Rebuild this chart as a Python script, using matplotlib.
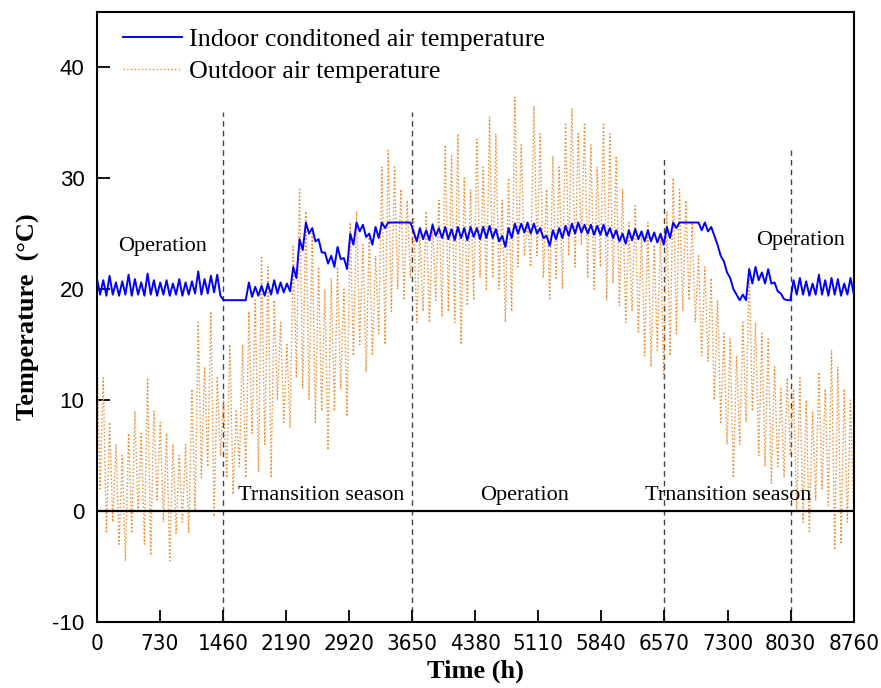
import matplotlib
matplotlib.use("Agg")
import matplotlib.pyplot as plt
from matplotlib import font_manager
import numpy as np

# ---- data (one high/low pair per 73 h block) ----
outdoor_hi = [14, 12, 8, 6, 5, 7, 9, 7, 12, 9,
              8, 7, 6, 5, 6, 11, 17, 13, 18, 12,
              10, 15, 9, 15, 18, 19, 23, 22, 19, 17,
              15, 24, 29, 27, 25, 22, 20, 21, 22, 20,
              26, 27, 24, 25, 23, 31, 32.5, 31, 29, 28,
              26.5, 25, 27, 26, 28, 33, 32, 34, 30, 29,
              33.5, 31, 35.5, 34, 28, 30, 37.3, 33, 26, 36.5,
              34, 29, 32, 31, 35, 36.3, 34, 35, 33, 31,
              35, 34, 32, 29, 26, 27.5, 25, 26, 24, 25,
              27, 30, 29, 28, 26, 23, 22, 21, 19, 16,
              15.5, 14, 17, 22, 17, 16, 15.5, 13, 11, 12,
              11, 12, 10, 9, 12.5, 11, 14.5, 13, 11, 10]
outdoor_lo = [2, -2, -1, -3, -4.5, -2, 0, -3, -4, 1,
              -1, -4.5, -2, -1, -2, 0, 3, 4, -0.5, 5,
              3, 1.5, 4, 3, 7, 3.5, 6, 3, 10, 8,
              7.5, 12, 11, 10, 8, 9, 5.5, 9, 11, 8.5,
              14, 15, 12.5, 14, 16, 15, 18, 20, 19, 21,
              17, 18, 17, 19, 17.5, 18, 17, 15, 18.5, 19,
              21, 20, 21, 20, 17, 18, 22, 23, 22, 23,
              21, 19, 21, 20, 23, 22, 24, 21, 20, 22,
              19, 20.5, 18.5, 17, 18, 16, 14, 13, 14.5, 12,
              14, 16, 18, 19, 17, 14, 13.5, 10, 8, 6,
              3, 6, 8, 9, 5, 4, 2.5, 4, 3, 5,
              0, -1, -2, 1, 2, 0.5, -3.5, -3, -1, 0]
indoor_hi = [21, 20.8, 21.2, 20.6, 20.7, 21.3, 20.9, 20.6, 21.4, 20.8,
             20.6, 20.8, 20.5, 20.9, 20.6, 20.7, 21.6, 20.9, 21.2, 21.3,
             19.0, 19.0, 19.0, 19.0, 20.6, 20.2, 20.3, 20.5, 20.8, 20.6,
             20.5, 22, 24.5, 26, 25.5, 24.5, 23.3, 23, 23.8, 22.8,
             25, 26, 25.8, 25, 25.6, 26, 26, 26, 26, 26,
             25.2, 25.5, 25.3, 25.8, 25.5, 25.6, 25.4, 25.6, 25.5, 25.6,
             25.5, 25.6, 25.7, 25.4, 24.8, 25.5, 25.9, 25.9, 26, 25.9,
             25.5, 24.8, 25.3, 25.5, 25.7, 25.9, 26, 25.8, 25.8, 25.7,
             25.8, 25.5, 25.3, 25, 25.3, 25.4, 25.2, 25.3, 25.1, 25,
             25.6, 26, 26, 26, 26, 26, 26, 25.6, 24, 22.5,
             21, 19.5, 19.5, 21.8, 22, 21.5, 21.8, 20.6, 19.6, 19.0,
             20.8, 21.0, 20.7, 20.5, 21.3, 20.8, 21.0, 20.9, 20.5, 21]
indoor_lo = [19.5, 19.4, 19.5, 19.4, 19.5, 19.4, 19.5, 19.4, 19.5, 19.4,
             19.5, 19.4, 19.5, 19.4, 19.5, 19.6, 19.5, 19.6, 19.7, 19.4,
             19.0, 19.0, 19.0, 19.0, 19.3, 19.4, 19.4, 19.5, 19.6, 19.7,
             19.8, 21, 23.5, 25, 24.3, 23.3, 22.3, 22, 22.7, 21.8,
             24, 25.2, 24.7, 24, 24.6, 25.5, 26, 26, 26, 26,
             24.3, 24.5, 24.4, 24.8, 24.6, 24.5, 24.4, 24.6, 24.4, 24.7,
             24.5, 24.6, 24.6, 24.3, 23.8, 24.6, 25, 25.1, 25, 25,
             24.6, 23.9, 24.5, 24.6, 24.8, 25, 25.1, 25, 24.9, 24.9,
             24.8, 24.6, 24.3, 24.1, 24.4, 24.5, 24.3, 24.3, 24.2, 24,
             24.6, 25.5, 26, 26, 26, 25.3, 25.2, 24.8, 23, 21.5,
             20, 19, 19, 20.5, 20.8, 20.5, 20.5, 19.8, 19.1, 19.0,
             19.5, 19.5, 19.4, 19.5, 19.5, 19.4, 19.5, 19.4, 19.5, 19.6]

x_ticks = [0, 730, 1460, 2190, 2920, 3650, 4380, 5110, 5840, 6570, 7300, 8030, 8760]
y_ticks = [-10, 0, 10, 20, 30, 40]
season_lines = [1460, 3650, 6570, 8030]
season_line_tops = [36, 36, 32, 32.5]
labels = [
    (243, 23.8, "Operation"),
    (1631, 1.4, "Trnansition season"),
    (4431, 1.4, "Operation"),
    (6340, 1.4, "Trnansition season"),
    (7636, 24.4, "Operation"),
]

# alternate high / low of each block into one series
outdoor = np.ravel(np.column_stack([outdoor_hi, outdoor_lo]))
indoor = np.ravel(np.column_stack([indoor_hi, indoor_lo]))
hours = np.linspace(0, 8760, len(outdoor))

plt.rcParams["axes.unicode_minus"] = False
serif = ["Liberation Serif", "DejaVu Serif"]
sans = ["Liberation Sans", "DejaVu Sans"]


def narrow_font(size):
    """Condensed sans font for the crowded x tick labels, if one is installed."""
    for f in font_manager.fontManager.ttflist:
        name = f.name.lower()
        if f.weight in (400, "normal", "regular") and f.style == "normal" and (
                "narrow" in name or "condensed" in name
                or f.stretch in ("condensed", "semi-condensed", 500 - 125)):
            return font_manager.FontProperties(fname=f.fname, size=size)
    return font_manager.FontProperties(family=sans, size=size - 2)


fig = plt.figure(figsize=(8.81, 6.88), dpi=100)
ax = fig.add_axes([0.110, 0.096, 0.859, 0.887])

ax.plot(hours, indoor, "-", color="#0000ff", lw=1.4,
        label="Indoor conditoned air temperature", zorder=3)
ax.plot(hours, outdoor, ":", color="#f0892c", lw=1.0,
        label="Outdoor air temperature", zorder=2)

ax.axhline(0, color="black", lw=1.6, zorder=4)
for xv, top in zip(season_lines, season_line_tops):
    ax.plot([xv, xv], [-10, top], "--", color="#444444", lw=1.0,
            dashes=(4, 3), zorder=1)

for xv, yv, txt in labels:
    ax.text(xv, yv, txt, family=serif, fontsize=16, va="center", ha="left")

ax.set_xlim(0, 8760)
ax.set_ylim(-10, 45)
ax.set_xticks(x_ticks)
ax.set_yticks(y_ticks)
ax.tick_params(direction="in", length=9, width=1.3, top=False, right=False)
ax.tick_params(axis="x", pad=9)
ax.tick_params(axis="y", pad=9)
xfont = narrow_font(16)
for lab in ax.get_xticklabels():
    lab.set_fontproperties(xfont)
for lab in ax.get_yticklabels():
    lab.set_family(sans)
    lab.set_fontsize(16)

ax.set_xlabel("Time (h)", family=serif, fontsize=19, fontweight="bold", labelpad=4)
ax.set_ylabel("Temperature  (\u00b0C)", family=serif, fontsize=19,
              fontweight="bold", labelpad=9)
for sp in ax.spines.values():
    sp.set_linewidth(1.5)

leg = ax.legend(loc="upper left", frameon=False, prop={"family": serif, "size": 18.7},
                handlelength=2.3, handletextpad=0.25, labelspacing=0.35,
                borderaxespad=0.1, bbox_to_anchor=(0.017, 0.995))

fig.savefig("out.png", dpi=100)
